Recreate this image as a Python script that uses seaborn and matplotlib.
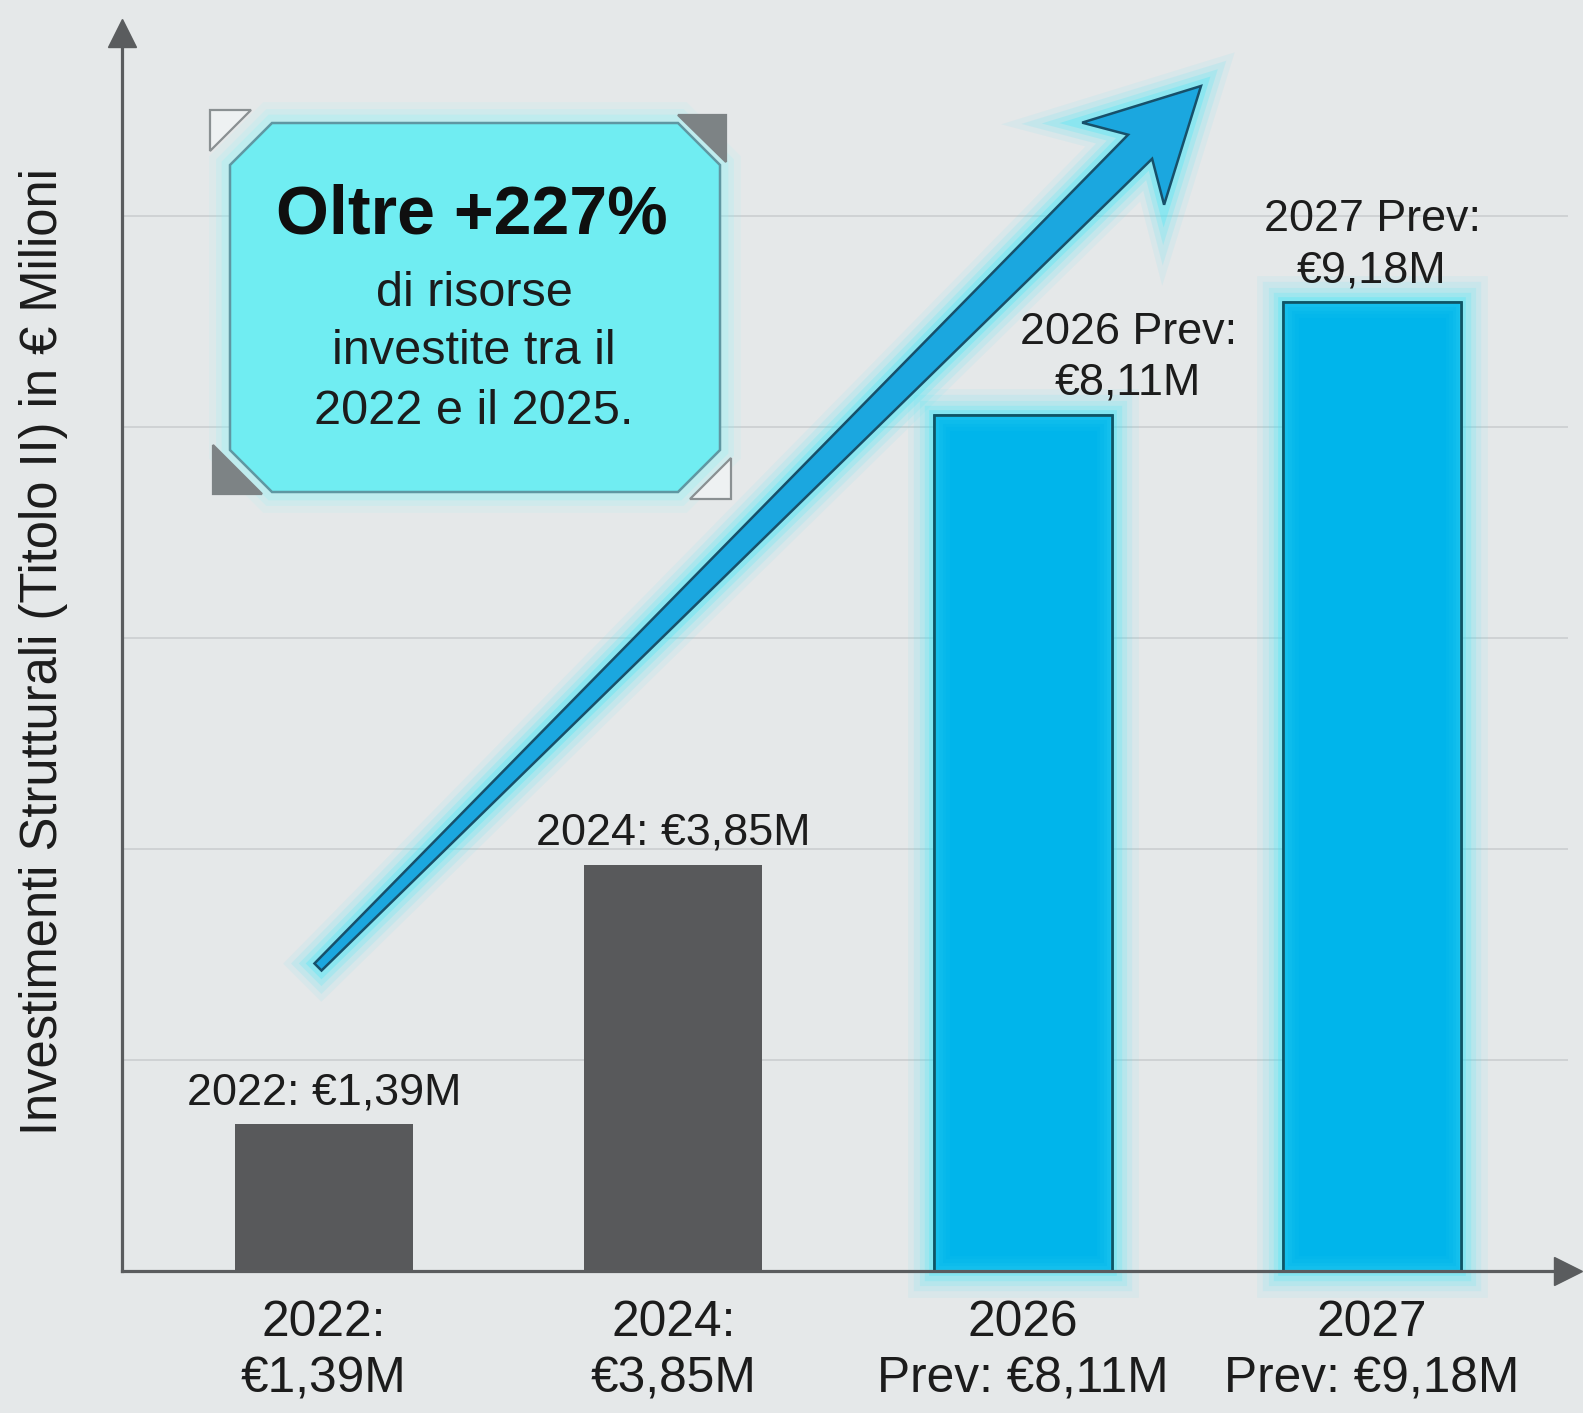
import numpy as np
import pandas as pd
import matplotlib
matplotlib.use('Agg')
import matplotlib.pyplot as plt
import matplotlib.patheffects as pe
from matplotlib.patches import Polygon, Rectangle
from matplotlib import font_manager as fm
import seaborn as sns

W, H = 1583, 1413

# data
years = ['2022', '2024', '2026', '2027']
values = [1.39, 3.85, 8.11, 9.18]
forecast = [False, False, True, True]
tick_labels = ['2022:\n€1,39M', '2024:\n€3,85M', '2026\nPrev: €8,11M', '2027\nPrev: €9,18M']
bar_labels = ['2022: €1,39M', '2024: €3,85M', '2026 Prev:\n€8,11M', '2027 Prev:\n€9,18M']
grid_ticks = [2, 4, 6, 8, 10]
callout_title = 'Oltre +227%'
callout_body = 'di risorse\ninvestite tra il\n2022 e il 2025.'
ylabel = 'Investimenti Strutturali (Titolo II) in € Milioni'

# colours
BG = '#e5e8e9'
GRID = '#cdd0d2'
AXC = '#5a5c5e'
TXT = '#1c1c1c'
GREY = '#58595b'
CYAN = '#00b5eb'
CYAN_EDGE = '#0e5566'
GLOW = '#45e6f8'

sns.set_style('white', rc={'axes.facecolor': BG, 'figure.facecolor': BG})
installed = {f.name for f in fm.fontManager.ttflist}
if 'Liberation Sans Narrow' in installed:
    NARROW, k = 'Liberation Sans Narrow', 1.0
else:
    NARROW, k = 'Liberation Sans', 0.85
plt.rcParams['font.family'] = ['Liberation Sans', 'DejaVu Sans']


def fx(x, y):
    # pixel (top-left origin) -> figure fraction
    return (x / W, 1 - y / H)


def glow(color, widths=(38, 29, 21, 14, 7), alphas=(0.07, 0.10, 0.14, 0.2, 0.3)):
    return [pe.Stroke(linewidth=w, foreground=color, alpha=a) for w, a in zip(widths, alphas)] + [pe.Normal()]


fig = plt.figure(figsize=(W / 100, H / 100), dpi=100)
ax = fig.add_axes([122 / W, 1 - 1271 / H, (1568 - 122) / W, (1271 - 33) / H])

df = pd.DataFrame({'year': years, 'value': values})
palette = [CYAN if f else GREY for f in forecast]
sns.barplot(data=df, x='year', y='value', hue='year', palette=palette, width=0.51,
            saturation=1, legend=False, ax=ax, zorder=3)

for bar, f in zip(list(ax.patches), forecast):
    bar.set_clip_on(False)
    if f:
        bar.set_edgecolor(CYAN_EDGE)
        bar.set_linewidth(1.8)
        bar.set_path_effects(glow(GLOW))
        # soft inner light along the bar edges
        for lw_, a_ in [(22, 0.07), (17, 0.08), (12, 0.1), (7, 0.12), (3, 0.15)]:
            inner = Rectangle(bar.get_xy(), bar.get_width(), bar.get_height(),
                              facecolor='none', edgecolor='#3fdcf7', lw=lw_, alpha=a_,
                              zorder=3.1)
            ax.add_patch(inner)
            inner.set_clip_path(bar)
        edge = Rectangle(bar.get_xy(), bar.get_width(), bar.get_height(),
                         facecolor='none', edgecolor=CYAN_EDGE, lw=1.8, zorder=3.2,
                         clip_on=False)
        ax.add_patch(edge)
    else:
        bar.set_linewidth(0)

ax.set_xlim(-0.578, 3.561)
ax.set_ylim(0, 11.73)
ax.set_yticks(grid_ticks)
ax.yaxis.grid(True, color=GRID, lw=1.3)
ax.set_axisbelow(True)
ax.tick_params(axis='both', length=0)
ax.tick_params(axis='y', labelleft=False)
ax.tick_params(axis='x', pad=21, labelsize=42 * k, labelcolor=TXT)
ax.set_xticks(range(len(years)))
ax.set_xticklabels(tick_labels, fontfamily=NARROW, linespacing=1.3)
ax.set_xlabel('')

sns.despine(ax=ax)
for s in ['left', 'bottom']:
    ax.spines[s].set_color(AXC)
    ax.spines[s].set_linewidth(2.3)
    ax.spines[s].set_zorder(5)
ax.plot(1, 0, '>', color=AXC, ms=20, transform=ax.transAxes, clip_on=False, zorder=6)
ax.plot(0, 1, '^', color=AXC, ms=20, transform=ax.transAxes, clip_on=False, zorder=6)

ax.set_ylabel(ylabel, fontsize=43 * k, family=NARROW, color=TXT)
ax.yaxis.set_label_coords(-0.037, 0.5)

# value labels above the bars
for i, (lab, v) in enumerate(zip(bar_labels, values)):
    dx = 76 if years[i] == '2026' else 0
    ax.annotate(lab, xy=(i, v), xytext=(dx, 8), textcoords='offset points',
                ha='center', va='bottom', fontsize=38 * k, family=NARROW,
                color=TXT, linespacing=1.3, zorder=7)

# callout box
L, R, T, B, c = 230, 720, 123, 492, 42
box = Polygon([fx(L + c, T), fx(R - c, T), fx(R, T + c), fx(R, B - c), fx(R - c, B),
               fx(L + c, B), fx(L, B - c), fx(L, T + c)], closed=True,
              transform=fig.transFigure, facecolor='#70edf2', edgecolor='#5f97a2',
              lw=1.8, zorder=4)
box.set_path_effects(glow('#8ff4f8', widths=(30, 20, 12), alphas=(0.1, 0.16, 0.24)))
fig.add_artist(box)

tri_fill = '#7d8385'
corners = [
    ([(210, 110), (251, 110), (210, 151)], False),
    ([(678, 115), (726, 115), (726, 162)], True),
    ([(213, 445), (213, 494), (262, 494)], True),
    ([(731, 458), (731, 499), (690, 499)], False),
]
for pts, filled in corners:
    tri = Polygon([fx(*p) for p in pts], closed=True, transform=fig.transFigure,
                  facecolor=tri_fill if filled else '#eef1f2',
                  edgecolor=tri_fill if filled else '#8a9092', lw=1.6, zorder=4)
    fig.add_artist(tri)

fig.text(*fx(472, 216), callout_title, ha='center', va='center', fontsize=49,
         fontweight='bold', color='#0f0f0f', zorder=8)
fig.text(*fx(474, 352), callout_body, ha='center', va='center', fontsize=35,
         color=TXT, linespacing=1.4, zorder=8)

# big trend arrow
tail = np.array([318.0, 967.0])
tip = np.array([1201.0, 86.0])
d = (tip - tail) / np.linalg.norm(tip - tail)
n = np.array([-d[1], d[0]])
length = np.linalg.norm(tip - tail)
local = [(0, 0), (-110, -58), (-86, -17), (-length, -5), (-length, 5), (-86, 17), (-110, 58)]
arrow_px = [tip + u * d + v * n for u, v in local]
arrow = Polygon([fx(*p) for p in arrow_px], closed=True, transform=fig.transFigure,
                facecolor='#1ba7df', edgecolor='#17506a', lw=1.8, zorder=6)
arrow.set_path_effects(glow(GLOW, widths=(32, 24, 16, 9), alphas=(0.08, 0.13, 0.2, 0.3)))
fig.add_artist(arrow)

fig.savefig('out.png', dpi=100, facecolor=BG)
